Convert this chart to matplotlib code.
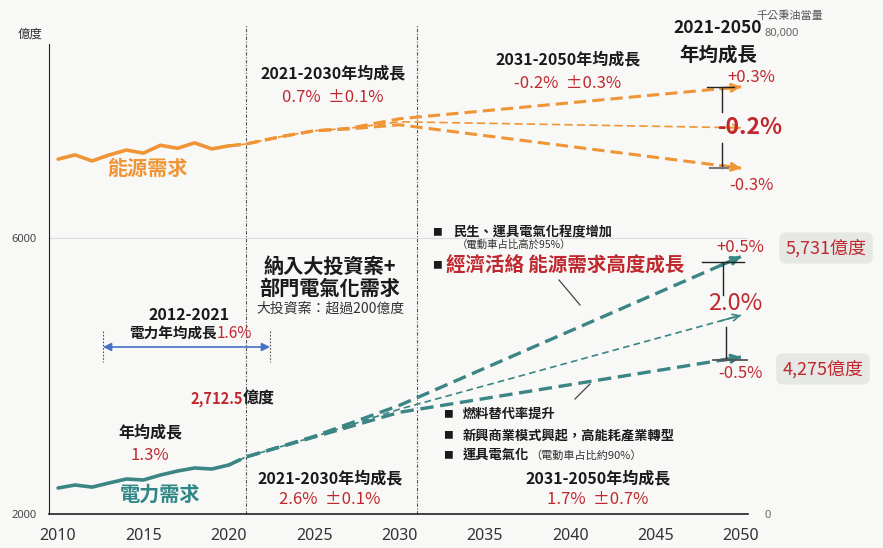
import matplotlib
matplotlib.use("Agg")
import matplotlib.pyplot as plt
from matplotlib.lines import Line2D
import numpy as np

plt.rcParams['font.family'] = ['Noto Sans CJK TC', 'DejaVu Sans']

# ---------------- data ----------------
hist_years = [2010, 2011, 2012, 2013, 2014, 2015, 2016, 2017, 2018, 2019, 2020]
elec_hist = [2377, 2420, 2390, 2450, 2507, 2493, 2565, 2623, 2667, 2652, 2710]          # 億度
energy_hist = [58900, 59600, 58600, 59600, 60400, 59900, 61200, 60700, 61600, 60600, 61100]  # 千公秉油當量

elec_proj_years = [2020, 2021, 2025, 2030, 2050]
elec_high = [2710, 2826, 3125, 3575, 5731]
elec_base = [2710, 2826, 3120, 3520, 4880]
elec_low = [2710, 2826, 3115, 3474, 4275]

energy_proj_years = [2020, 2021, 2023, 2025, 2027, 2030, 2050]
energy_high = [61100, 61400, 62600, 63600, 64000, 65600, 70900]
energy_base = [61100, 61400, 62600, 63600, 64000, 65100, 64100]
energy_low = [61100, 61400, 62600, 63600, 63900, 64600, 57400]

xticks = [2010, 2015, 2020, 2025, 2030, 2035, 2040, 2045, 2050]
left_ticks = [2000, 6000]
right_ticks = [0, 80000]
right_ticklabels = ['0', '80,000']
divider_years = [2021, 2031]

# ---------------- style ----------------
W, H = 883, 548
BG = '#f8f8f6'
ORANGE = '#ef9535'
TEAL = '#3b8585'
RED = '#c0282f'
DARK = '#1a1a1a'

fig = plt.figure(figsize=(W / 100, H / 100), dpi=100, facecolor=BG)
ax = fig.add_axes([49 / W, 34 / H, 699 / W, 482 / H])
ax.set_facecolor('none')
ax.set_xlim(2009.47, 2050.41)
ax.set_ylim(2000, 2000 + 482 / 0.069)
ax2 = ax.twinx()
ax2.set_ylim(0, 80000)

for a in (ax, ax2):
    for s in ('top', 'right'):
        a.spines[s].set_visible(False)
ax2.spines['left'].set_visible(False)
ax2.spines['bottom'].set_visible(False)
ax.spines['left'].set_bounds(2000, 2000 + 470 / 0.069)
ax.spines['left'].set_color('#222222')
ax.spines['bottom'].set_color('#222222')
ax.spines['bottom'].set_linewidth(1.2)

ax.set_xticks(xticks)
ax.set_xticklabels([str(x) for x in xticks], fontsize=11.5, color='#333333', family=['Noto Sans', 'DejaVu Sans'])
ax.tick_params(axis='x', length=0, pad=10)
ax.set_yticks(left_ticks)
ax.set_yticklabels([str(v) for v in left_ticks], fontsize=8, color='#444444', family=['Noto Sans', 'DejaVu Sans'])
ax.tick_params(axis='y', length=0, pad=9)
ax2.set_yticks(right_ticks)
ax2.set_yticklabels(right_ticklabels, fontsize=8, color='#666666', family=['Noto Sans', 'DejaVu Sans'])
ax2.tick_params(axis='y', length=0, pad=12)

ax.axhline(6000, color='#dcdcdc', lw=0.8, zorder=0)

for yr in divider_years:
    ax.plot([yr, yr], [0, 1.015], transform=ax.get_xaxis_transform(), color='#555555',
            lw=0.8, ls=(0, (3, 1.5, 1, 1.5)), clip_on=False, zorder=1)

# ---------------- energy (right axis) ----------------
ax2.plot(hist_years, energy_hist, color=ORANGE, lw=2.6, solid_capstyle='round', zorder=3)
for vals, lw, dash in ((energy_high, 2.2, (4, 2)), (energy_low, 2.2, (4, 2)), (energy_base, 1.2, (5, 2.5))):
    ax2.plot(energy_proj_years, vals, color=ORANGE, lw=lw, dashes=dash, zorder=3)
    x0, x1 = energy_proj_years[-2], energy_proj_years[-1]
    v0, v1 = vals[-2], vals[-1]
    xs = x1 - 1.2
    vs = v0 + (v1 - v0) * (xs - x0) / (x1 - x0)
    ax2.annotate('', xy=(x1, v1), xytext=(xs, vs),
                 arrowprops=dict(arrowstyle='->', color=ORANGE, lw=lw, shrinkA=0, shrinkB=0,
                                 mutation_scale=12))

# ---------------- electricity (left axis) ----------------
ax.plot(hist_years, elec_hist, color=TEAL, lw=2.6, solid_capstyle='round', zorder=3)
for vals, lw, dash in ((elec_high, 2.4, (4, 2)), (elec_low, 2.4, (4, 2)), (elec_base, 1.2, (4, 2.5))):
    ax.plot(elec_proj_years, vals, color=TEAL, lw=lw, dashes=dash, zorder=3)
    x0, x1 = elec_proj_years[-2], elec_proj_years[-1]
    v0, v1 = vals[-2], vals[-1]
    xs = x1 - 1.2
    vs = v0 + (v1 - v0) * (xs - x0) / (x1 - x0)
    ax.annotate('', xy=(x1, v1), xytext=(xs, vs),
                arrowprops=dict(arrowstyle='->', color=TEAL, lw=lw, shrinkA=0, shrinkB=0,
                                mutation_scale=12))

# ---------------- helpers ----------------
def T(px, py, s, size, color=DARK, weight='normal', ha='center', va='center', **kw):
    return fig.text(px / W, 1 - py / H, s, fontsize=size, color=color, fontweight=weight,
                    ha=ha, va=va, **kw)

def L(xs, ys, color='#222222', lw=1.0, **kw):
    fig.add_artist(Line2D([x / W for x in xs], [1 - y / H for y in ys], color=color, lw=lw, **kw))

# axis titles
T(30, 34, '億度', 9, color='#333333')
T(790, 16, '千公秉油當量', 8, color='#555555')

# energy annotations
T(333, 73, '2021-2030年均成長', 11.5, weight='bold')
T(333, 98, '0.7%  ±0.1%', 12, color=RED)
T(568, 59, '2031-2050年均成長', 11.5, weight='bold')
T(568, 83, '-0.2%  ±0.3%', 12, color=RED)
T(718, 28, '2021-2050', 12.5, weight='bold')
T(718, 55, '年均成長', 14, weight='bold')
T(751, 77, '+0.3%', 12, color=RED)
T(750, 128, '-0.2%', 16.5, color=RED, weight='bold')
T(751, 185, '-0.3%', 12, color=RED)
T(148, 168, '能源需求', 14.5, color=ORANGE, weight='bold')

L([707, 734], [87, 87])
L([722, 722], [87, 112])
L([722, 722], [143, 168])
L([710, 728], [168, 168], color='#777777', lw=1.5)

# electricity annotations
T(330, 266, '納入大投資案+', 14.5, weight='bold')
T(330, 288, '部門電氣化需求', 14.5, weight='bold')
T(330, 309, '大投資案：超過200億度', 10, color='#333333')

T(189, 315, '2012-2021', 11.5, weight='bold')
T(217, 333, '電力年均成長', 10.5, weight='bold', ha='right')
T(217, 333, '1.6%', 11, color=RED, ha='left')
L([103, 103], [331, 362], color='#555555', lw=0.8, ls=(0, (1.5, 1.5)))
L([270, 270], [331, 362], color='#555555', lw=0.8, ls=(0, (1.5, 1.5)))
fig.add_artist(matplotlib.patches.FancyArrowPatch((103 / W, 1 - 347 / H), (270 / W, 1 - 347 / H),
               arrowstyle='<|-|>', mutation_scale=12, color='#4472c4', lw=1.2,
               transform=fig.transFigure, shrinkA=0, shrinkB=0))

T(243, 399, '2,712.5', 10.5, color=RED, weight='bold', ha='right')
T(243, 399, '億度', 11.5, weight='bold', ha='left')

T(150, 432, '年均成長', 11.5, weight='bold')
T(150, 455, '1.3%', 12, color=RED)
T(160, 494, '電力需求', 14.5, color='#2f8686', weight='bold')

T(330, 478, '2021-2030年均成長', 11.5, weight='bold')
T(330, 500, '2.6%  ±0.1%', 12, color=RED)
T(598, 478, '2031-2050年均成長', 11.5, weight='bold')
T(598, 500, '1.7%  ±0.7%', 12, color=RED)

T(437, 232, '■', 7)
T(453, 232, '民生、運具電氣化程度增加', 9.5, weight='bold', ha='left')
T(457, 245, '（電動車占比高於95%）', 7.5, ha='left', color='#333333')
T(437, 265, '■', 7)
T(446, 266, '經濟活絡 能源需求高度成長', 14, color=RED, weight='bold', ha='left')
L([559, 580], [280, 305], color='#444444', lw=0.9)
L([590, 575], [384, 399], color='#444444', lw=0.9)

T(448, 414, '■', 7)
T(463, 414, '燃料替代率提升', 9.5, weight='bold', ha='left')
T(448, 435, '■', 7)
T(463, 435, '新興商業模式興起，高能耗產業轉型', 9.5, weight='bold', ha='left')
T(448, 455, '■', 7)
T(463, 455, '運具電氣化', 9.5, weight='bold', ha='left')
T(530, 456, '（電動車占比約90%）', 8, ha='left', color='#333333')

T(740, 248, '+0.5%', 12, color=RED)
T(735, 304, '2.0%', 17, color=RED)
T(740, 374, '-0.5%', 12, color=RED)
L([702, 744], [262, 262])
L([723, 723], [262, 295])
L([726, 726], [327, 360])
L([713, 747], [360, 360], color='#555555', lw=1.3)

box = dict(boxstyle='round,pad=0.35,rounding_size=0.4', facecolor='#e6e8e5', edgecolor='none')
T(826, 248, '5,731億度', 13, color=RED, bbox=box)
T(823, 369, '4,275億度', 13, color=RED, bbox=box)

fig.savefig('out.png', dpi=100, facecolor=BG)
